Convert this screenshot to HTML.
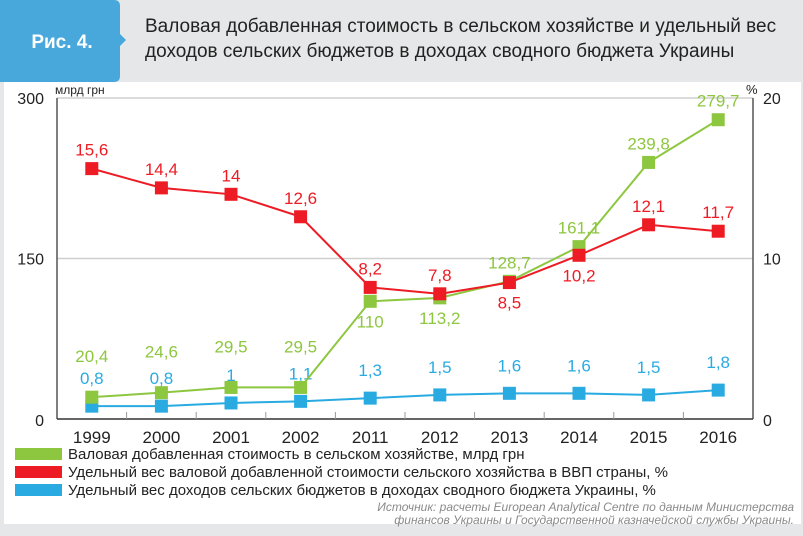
<!DOCTYPE html>
<html><head><meta charset="utf-8">
<style>
body{margin:0;width:803px;height:531px;overflow:hidden;background:#e6e7e8;font-family:"Liberation Sans",sans-serif;}
#wrap{position:relative;width:803px;height:531px;}
</style></head>
<body>
<div id="wrap">
<svg id="chart" width="803" height="531" viewBox="0 0 803 531">
  <rect x="0" y="0" width="803" height="531" fill="#e6e7e8"/>
  <rect x="4" y="82" width="797" height="442" fill="#fff"/>
  <path d="M0 0 H114 Q120 0 120 6 V34 L126 40 L120 46 V76 Q120 82 114 82 H0 Z" fill="#48a8dc"/>
  <text x="62" y="48" text-anchor="middle" fill="#fff" font-size="19" font-weight="bold">Рис. 4.</text>
  <text x="145" y="32" fill="#222" font-size="19">Валовая добавленная стоимость в сельском хозяйстве и удельный вес</text>
  <text x="145" y="57" fill="#222" font-size="19">доходов сельских бюджетов в доходах сводного бюджета Украины</text>
  <g id="grid"></g>
  <g id="axes"></g>
  <g id="series"></g>
  <text x="55" y="94" font-size="12" fill="#222">млрд грн</text>
  <text x="746" y="94" font-size="13" fill="#222">%</text>
  <g id="legend">
    <rect x="15" y="448" width="47" height="12" fill="#8dc63f"/>
    <text x="68" y="459" font-size="15" fill="#222">Валовая добавленная стоимость в сельском хозяйстве, млрд грн</text>
    <rect x="15" y="466" width="47" height="12" fill="#ed1c24"/>
    <text x="68" y="477" font-size="15" fill="#222">Удельный вес валовой добавленной стоимости сельского хозяйства в ВВП страны, %</text>
    <rect x="15" y="484" width="47" height="12" fill="#29abe2"/>
    <text x="68" y="495" font-size="15" fill="#222">Удельный вес доходов сельских бюджетов в доходах сводного бюджета Украины, %</text>
  </g>
  <text x="794" y="511" text-anchor="end" font-size="12" font-style="italic" fill="#8a8a8a">Источник: расчеты European Analytical Centre по данным Министерства</text>
  <text x="794" y="524" text-anchor="end" font-size="12" font-style="italic" fill="#8a8a8a">финансов Украины и Государственной казначейской службы Украины.</text>
</svg>
</div>
<script>
const categories=["1999","2000","2001","2002","2011","2012","2013","2014","2015","2016"];
const gvaValues=[20.4,24.6,29.5,29.5,110,113.2,128.7,161.1,239.8,279.7];
const gdpShareValues=[15.6,14.4,14,12.6,8.2,7.8,8.5,10.2,12.1,11.7];
const budgetShareValues=[0.8,0.8,1,1.1,1.3,1.5,1.6,1.6,1.5,1.8];
const leftTicks=[0,150,300];
const rightTicks=[0,10,20];
const gvaLabelBelow=[false,false,false,false,true,true,false,false,false,false];
const gdpLabelBelow=[false,false,false,false,false,false,true,true,false,false];
const gvaLabelRaised=[true,true,true,true,false,false,false,false,false,false];

const NS="http://www.w3.org/2000/svg";
const X0=57,X1=753,Y0=419,Y1=98;
const yL=v=>Y0-(v/300)*(Y0-Y1);
const yR=v=>Y0-(v/20)*(Y0-Y1);
const step=(X1-X0)/categories.length;
const xC=i=>X0+step*(i+0.5);
function mk(tag,attrs,parent){const e=document.createElementNS(NS,tag);for(const k in attrs)e.setAttribute(k,attrs[k]);parent.appendChild(e);return e;}
const grid=document.getElementById('grid'),axes=document.getElementById('axes'),series=document.getElementById('series');
leftTicks.forEach((t,i)=>{
  if(t>0){const l=mk('line',{x1:X0,x2:X1,y1:yL(t),y2:yL(t),stroke:'#cfcfcf','stroke-width':1.5},grid);
  
  }
  const tx=mk('text',{x:44,y:yL(t)+(t===0?7:6),'text-anchor':'end','font-size':16,fill:'#222'},axes);tx.textContent=t;
  
  
});
rightTicks.forEach(t=>{
  const tx=mk('text',{x:763,y:yR(t)+(t===0?7:6),'font-size':16,fill:'#222'},axes);tx.textContent=t;
  
  
});
let a=mk('line',{x1:X0,x2:X0,y1:Y1,y2:Y0,stroke:'#555','stroke-width':1.5},axes);


a=mk('line',{x1:X1,x2:X1,y1:Y1,y2:Y0,stroke:'#555','stroke-width':1.5},axes);


a=mk('line',{x1:X0,x2:X1,y1:Y0,y2:Y0,stroke:'#333','stroke-width':1.5},axes);


categories.forEach((c,i)=>{
  if(i>0){const tk=mk('line',{x1:X0+step*i,x2:X0+step*i,y1:Y0-7,y2:Y0,stroke:'#999'},axes);
  
  }
  const tx=mk('text',{x:xC(i),y:Y0+24,'text-anchor':'middle','font-size':17,fill:'#222'},axes);tx.textContent=c;
  
  
});
function drawSeries(vals,yf,color,name,below,raised,up){
  const g=mk('g',{},series);
  
  
  const pl=mk('polyline',{points:vals.map((v,i)=>xC(i)+','+yf(v)).join(' '),fill:'none',stroke:color,'stroke-width':2},g);
  
  
  vals.forEach((v,i)=>{
    const r=mk('rect',{x:xC(i)-6.5,y:yf(v)-6.5,width:13,height:13,fill:color},g);
    
    
    const b=below&&below[i];
    const rs=raised&&raised[i];
    const t=mk('text',{x:xC(i),y:b?yf(v)+26:(rs?yf(v)-35:yf(v)-up),'text-anchor':'middle','font-size':17,fill:color},g);
    t.textContent=String(v).replace('.',',');
    
    
  });
}
drawSeries(budgetShareValues,yR,'#29abe2','budget-share',null,null,22);
drawSeries(gvaValues,yL,'#8dc63f','gva',gvaLabelBelow,gvaLabelRaised,13);
drawSeries(gdpShareValues,yR,'#ed1c24','gdp-share',gdpLabelBelow,null,13);
</script>
</body></html>
